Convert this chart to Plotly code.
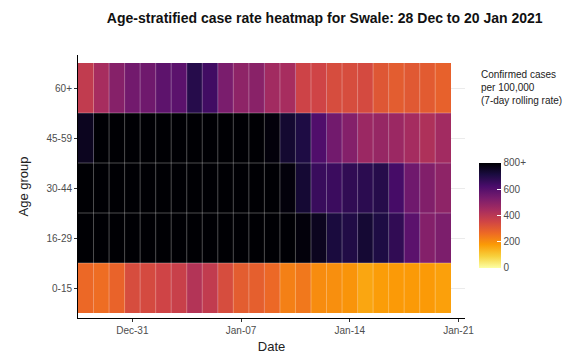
import plotly.graph_objects as go
import pandas as pd

# Data (cases per 100,000, 7-day rolling rate)
dates = pd.date_range("2020-12-28", "2021-01-20", freq="D")
age_groups = ["0-15", "16-29", "30-44", "45-59", "60+"]

rate_0_15 = [270, 260, 280, 335, 340, 355, 370, 415, 385, 335, 295, 290,
             270, 225, 240, 205, 200, 190, 160, 175, 180, 180, 180, 170]
rate_16_29 = [900, 940, 980, 1010, 1030, 1050, 1060, 1040, 1020, 990, 960, 930,
              900, 860, 790, 760, 715, 700, 730, 705, 670, 590, 510, 525]
rate_30_44 = [880, 920, 960, 990, 1010, 1030, 1040, 1020, 1000, 970, 930, 890,
              850, 790, 730, 655, 650, 670, 680, 690, 630, 550, 515, 490]
rate_45_59 = [760, 830, 870, 900, 930, 950, 960, 950, 930, 900, 870, 840,
              790, 735, 705, 610, 545, 510, 465, 475, 465, 445, 425, 450]
rate_60 = [385, 440, 505, 545, 550, 585, 590, 690, 640, 530, 490, 500,
           450, 440, 360, 355, 335, 335, 340, 310, 295, 305, 300, 285]

z = [rate_0_15, rate_16_29, rate_30_44, rate_45_59, rate_60]

fig = go.Figure()
fig.add_heatmap(x=dates, y=age_groups, z=z, zmin=0, zmax=800,
                colorscale="Inferno", reversescale=True,
                colorbar=dict(len=105, lenmode="pixels", thickness=22,
                              x=1.036, xanchor="left", xpad=0,
                              y=0.39, yanchor="middle", ypad=0,
                              outlinewidth=0,
                              tickvals=[0, 200, 400, 600, 800],
                              ticktext=["0", "200", "400", "600", "800+"],
                              ticks="inside", tickcolor="white", ticklen=4,
                              tickfont=dict(size=10, color="#4d4d4d")))

# thin translucent tile borders
half = pd.Timedelta(hours=12)
for d in dates[1:]:
    fig.add_shape(type="line", x0=d - half, x1=d - half, y0=-0.5, y1=4.5,
                  xref="x", yref="y", layer="above",
                  line=dict(color="rgba(255,255,255,0.3)", width=1))
for i in range(1, len(age_groups)):
    fig.add_shape(type="line", x0=dates[0] - half, x1=dates[-1] + half,
                  y0=i - 0.5, y1=i - 0.5, xref="x", yref="y", layer="above",
                  line=dict(color="rgba(255,255,255,0.3)", width=1))

fig.add_annotation(text="Confirmed cases<br>per 100,000<br>(7-day rolling rate)",
                   xref="paper", yref="paper", x=1.036, y=0.80,
                   xanchor="left", yanchor="bottom", align="left", showarrow=False,
                   font=dict(size=10, color="#222"))

fig.update_layout(width=583, height=358,
                  margin=dict(l=78, r=118, t=55, b=40),
                  paper_bgcolor="white", plot_bgcolor="white",
                  font=dict(family="Liberation Sans, Arial", color="#222"),
                  title=dict(text="<b>Age-stratified case rate heatmap for Swale: 28 Dec to 20 Jan 2021</b>",
                             x=0.557, xanchor="center", y=0.95, yanchor="middle",
                             font=dict(size=14, color="#111")),
                  xaxis=dict(title=dict(text="Date", font=dict(size=13), standoff=6),
                             range=["2020-12-27 12:00", "2021-01-21 10:00"],
                             tickvals=["2020-12-31", "2021-01-07", "2021-01-14", "2021-01-21"],
                             tickformat="%b-%d", tickfont=dict(size=10, color="#4d4d4d"),
                             showline=True, linecolor="black", linewidth=1,
                             ticks="outside", ticklen=3, tickcolor="#333",
                             showgrid=False, zeroline=False, automargin=False),
                  yaxis=dict(title=dict(text="Age group", font=dict(size=13), standoff=14),
                             range=[-0.6, 4.66],
                             tickfont=dict(size=10, color="#4d4d4d"),
                             showline=True, linecolor="black", linewidth=1,
                             ticks="outside", ticklen=3, tickcolor="#333",
                             showgrid=True, gridcolor="#ebebeb", zeroline=False,
                             automargin=False))

fig.write_html("out.html", config={"displayModeBar": False},
               post_script="document.body.style.margin='0';")
